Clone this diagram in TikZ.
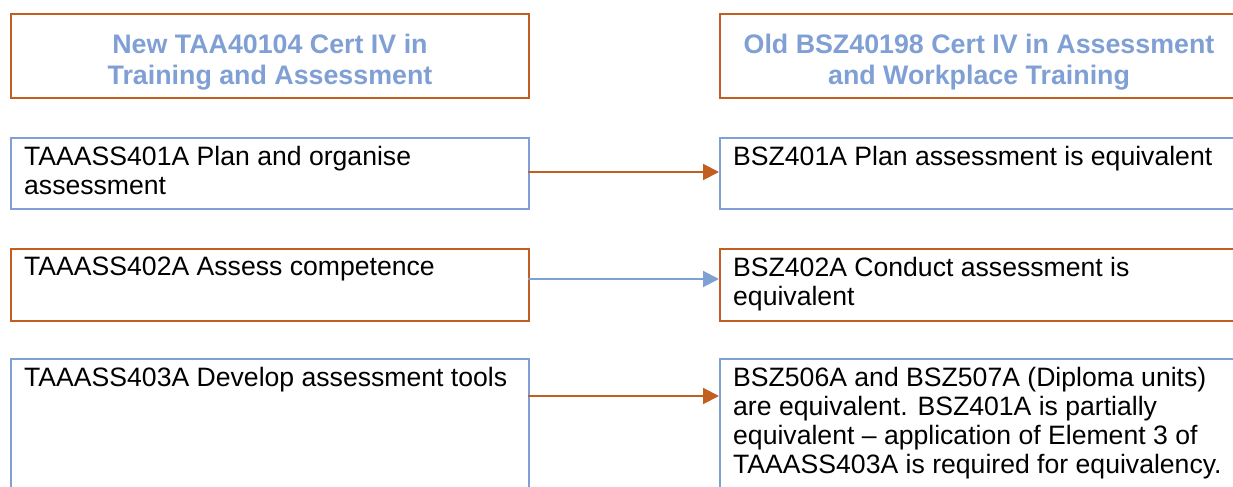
\documentclass[tikz,border=0pt]{standalone}
\usepackage{fontspec}
\setmainfont{Liberation Sans}
\usetikzlibrary{arrows.meta,calc}
\definecolor{borange}{RGB}{193,94,32}
\definecolor{bblue}{RGB}{127,159,213}
\begin{document}
\begin{tikzpicture}[x=1bp,y=1bp,
  box/.style={draw, line width=2bp, minimum width=518bp, inner sep=0pt, anchor=north west},
  obox/.style={box, draw=borange},
  bbox/.style={box, draw=bblue},
  head/.style={font=\fontsize{26.8bp}{31bp}\selectfont\bfseries, text=bblue, align=center, inner sep=0pt},
  txt/.style={font=\fontsize{26.6bp}{29bp}\selectfont, align=left, inner sep=0pt, anchor=north west},
  oarrow/.style={draw=borange, line width=2bp, -{Triangle[length=16bp,width=16bp]}},
  barrow/.style={draw=bblue, line width=2bp, -{Triangle[length=16bp,width=16bp]}}]
\useasboundingbox (0,0) rectangle (1233,-487);
\clip (0,0) rectangle (1233,-487);
% headers
\node[obox, minimum height=84bp] (hl) at (10,-13) {};
\node[obox, minimum height=84bp] (hr) at (719,-13) {};
\node[head] (hlt) at ($(hl.center)+(0,-6)$) {New TAA40104 Cert IV in\\Training and Assessment};
\node[head] (hrt) at ($(hr.center)+(0,-6)$) {Old BSZ40198 Cert IV in Assessment\\and Workplace Training};
% row 1
\node[bbox, minimum height=71bp] (l1) at (10,-137) {};
\node[bbox, minimum height=71bp] (r1) at (719,-137) {};
\node[txt] (l1t) at ($(l1.north west)+(14,-9)$) {TAAASS401A Plan and organise\\assessment};
\node[txt] (r1t) at ($(r1.north west)+(14,-9)$) {BSZ401A Plan assessment is equivalent};
% row 2
\node[obox, minimum height=72bp] (l2) at (10,-248) {};
\node[obox, minimum height=72bp] (r2) at (719,-248) {};
\node[txt] (l2t) at ($(l2.north west)+(14,-9)$) {TAAASS402A Assess competence};
\node[txt] (r2t) at ($(r2.north west)+(14,-9)$) {BSZ402A Conduct assessment is\\equivalent};
% row 3
\node[bbox, minimum height=160bp] (l3) at (10,-358) {};
\node[bbox, minimum height=160bp] (r3) at (719,-358) {};
\node[txt] (l3t) at ($(l3.north west)+(14,-9)$) {TAAASS403A Develop assessment tools};
\node[txt] (r3t) at ($(r3.north west)+(14,-9)$) {BSZ506A and BSZ507A (Diploma units)\\are equivalent. BSZ401A is partially\\equivalent -- application of Element 3 of\\TAAASS403A is required for equivalency.};
% arrows
\coordinate (a1s) at (528,-172);
\coordinate (a1e) at (719,-172);
\coordinate (a2s) at (528,-279);
\coordinate (a2e) at (719,-279);
\coordinate (a3s) at (528,-396);
\coordinate (a3e) at (719,-396);
\draw[oarrow] (a1s) -- (a1e);
\draw[barrow] (a2s) -- (a2e);
\draw[oarrow] (a3s) -- (a3e);
\end{tikzpicture}
\end{document}
